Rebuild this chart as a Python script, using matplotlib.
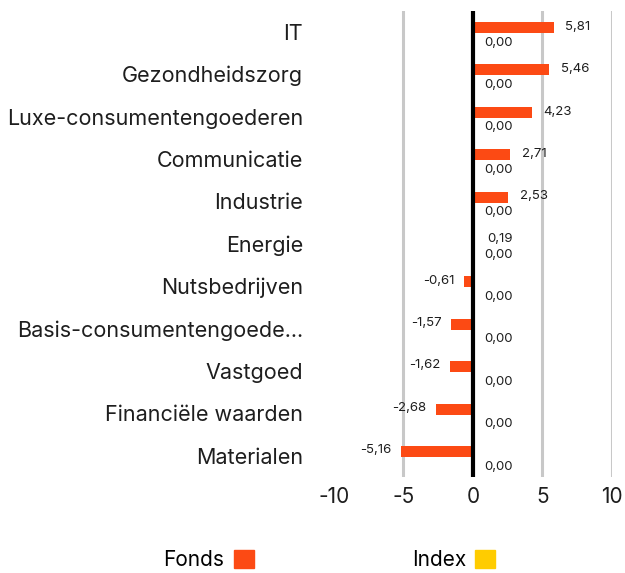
import numpy as np
import matplotlib.pyplot as plt
from matplotlib.patches import Patch

plt.rcParams["font.family"] = ["Inter", "DejaVu Sans"]

categories = ["IT", "Gezondheidszorg", "Luxe-consumentengoederen", "Communicatie",
              "Industrie", "Energie", "Nutsbedrijven", "Basis-consumentengoede...",
              "Vastgoed", "Financiële waarden", "Materialen"]
fonds = [5.81, 5.46, 4.23, 2.71, 2.53, 0.19, -0.61, -1.57, -1.62, -2.68, -5.16]
index = [0.00, 0.00, 0.00, 0.00, 0.00, 0.00, 0.00, 0.00, 0.00, 0.00, 0.00]
xticks = [-10, -5, 0, 5, 10]

FONDS_COLOR = "#fc4a14"
INDEX_COLOR = "#ffcc00"
TEXT_COLOR = "#1e1e1e"

def fmt(v):
    return f"{v:.2f}".replace(".", ",")

fig = plt.figure(figsize=(6.25, 5.73), dpi=100)
ax = fig.add_axes([0.534, 0.1675, 0.445, 0.814])

y = np.arange(len(categories))
off_f = -0.10
off_i = 0.254
h = 0.26
ax.barh(y + off_f, fonds, height=h, color=FONDS_COLOR, zorder=3)
ax.barh(y + off_i, index, height=h, color=INDEX_COLOR, zorder=3)

for yi, v in zip(y, fonds):
    if v >= 0:
        ax.annotate(fmt(v), (v, yi + off_f), xytext=(8.5, 0.5), textcoords="offset points",
                    ha="left", va="center", fontsize=9.5, color=TEXT_COLOR)
    else:
        ax.annotate(fmt(v), (v, yi + off_f), xytext=(-7, 1), textcoords="offset points",
                    ha="right", va="center", fontsize=9.5, color=TEXT_COLOR)
for yi, v in zip(y, index):
    ax.annotate(fmt(v), (v, yi + off_i), xytext=(8, 0), textcoords="offset points",
                ha="left", va="center", fontsize=9.5, color=TEXT_COLOR)

ax.set_xlim(-10, 10)
ax.set_ylim(len(categories) - 0.5, -0.5)
ax.set_xticks(xticks)
ax.set_xticklabels([str(t) for t in xticks], fontsize=15, color=TEXT_COLOR)
ax.set_yticks(y)
ax.set_yticklabels(categories, fontsize=15.5, color=TEXT_COLOR)
ax.tick_params(axis="x", length=0, pad=7)
ax.tick_params(axis="y", length=0, pad=22)

for s in ax.spines.values():
    s.set_visible(False)

ax.xaxis.grid(True, color="#c8c8c8", linewidth=2.2, zorder=0)
ax.set_axisbelow(True)
ax.get_xgridlines()[0].set_visible(False)
ax.get_xgridlines()[2].set_visible(False)
ax.axvline(0, color="black", linewidth=3, zorder=4)

handles = [Patch(color=FONDS_COLOR, label="Fonds"), Patch(color=INDEX_COLOR, label="Index")]
fig.legend(handles=handles, loc="center", bbox_to_anchor=(0.527, 0.022), ncol=2,
           frameon=False, markerfirst=False, fontsize=15, handlelength=0.95,
           handleheight=0.95, handletextpad=0.45, columnspacing=7.6)

fig.savefig("out.png", dpi=100)
